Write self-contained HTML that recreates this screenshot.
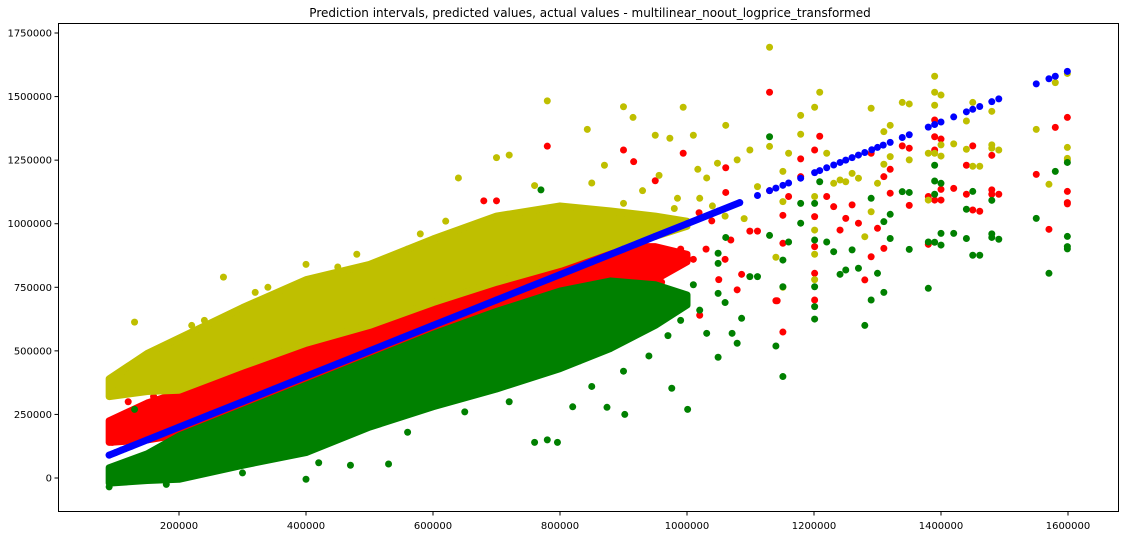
<!DOCTYPE html>
<html><head><meta charset="utf-8">
<style>
html,body{margin:0;padding:0;background:#fff;}
svg{display:block;font-family:"DejaVu Sans","Liberation Sans",sans-serif;}
</style></head>
<body>
<svg id="chart" width="1125" height="536" viewBox="0 0 1125 536" xmlns="http://www.w3.org/2000/svg">
<rect x="0" y="0" width="1125" height="536" fill="#fff"/>
<text x="590" y="17" text-anchor="middle" font-size="12" fill="#000">Prediction intervals, predicted values, actual values - multilinear_noout_logprice_transformed</text>
<g id="plot"></g>
<rect x="58.5" y="23.5" width="1060" height="488" fill="none" stroke="#000" stroke-width="1"/>
<g id="axes"></g>
</svg>
<script>
// ---- data (values in thousands) ----
const xTicks = [200, 400, 600, 800, 1000, 1200, 1400, 1600];
const yTicks = [0, 250, 500, 750, 1000, 1250, 1500, 1750];
// dense band envelopes
const bandX = [90, 150, 200, 300, 400, 500, 600, 700, 800, 880, 950, 1000];
const yellowLo = [320, 340, 345, 440, 530, 600, 690, 770, 840, 910, 950, 990];
const yellowHi = [390, 490, 550, 670, 780, 840, 940, 1030, 1070, 1050, 1030, 1010];
const redLo = [140, 150, 170, 240, 310, 390, 470, 540, 620, 700, 780, 850];
const redHi = [225, 295, 335, 445, 535, 635, 735, 820, 890, 910, 910, 880];
const greenLo = [-20, -10, -5, 50, 100, 200, 280, 350, 430, 510, 600, 680];
const greenHi = [40, 95, 165, 265, 365, 465, 565, 655, 735, 775, 760, 720];
// predicted values (dense segment)
const predDense = [90, 100, 110, 115, 125, 150, 200, 250, 300, 350, 400, 450, 500, 550, 600, 650, 700, 750, 800, 850, 900, 950, 1000, 1050, 1083];
// sparse predictions with upper, actual, lower
const sparseX = [1111,1130,1130,1140,1151,1151,1151,1160,1179,1179,1201,1201,1201,1201,1201,1209,1220,1231,1241,1250,1260,1270,1280,1290,1290,1300,1310,1310,1320,1320,1339,1350,1350,1380,1380,1390,1390,1390,1390,1400,1400,1400,1420,1440,1440,1450,1450,1461,1480,1480,1480,1491,1550,1570,1580,1599,1599,1599,1599];
const sparseUpper = [1146,1694,1304,868,1206,1087,750,1277,1426,1352,1458,1107,975,880,780,1517,1277,1159,1172,1165,1198,1179,949,1454,1047,1159,1362,1234,1387,1264,1477,1471,1251,1277,1093,1580,1517,1466,1277,1506,1310,1266,1314,1404,1293,1477,1226,1226,1442,1310,1297,1290,1371,1155,1555,1591,1300,1257,1251];
const sparseActual = [971,1517,1130,697,1033,923,574,1107,1255,1185,1290,1028,910,805,700,1344,1107,1067,975,1021,1074,1002,779,1277,870,982,1185,903,1214,1120,1306,1297,1072,1107,919,1408,1342,1290,1093,1333,1135,1093,1139,1230,1116,1306,1054,1049,1269,1133,1116,1116,1194,978,1379,1418,1127,1083,1078];
const sparseLower = [792,1342,954,519,857,752,399,928,1080,1002,1080,936,752,674,625,1165,928,890,801,818,897,825,600,1100,700,805,1008,730,1037,942,1126,1123,899,928,746,1230,1168,1116,927,1159,962,916,962,1057,942,1127,876,876,1092,960,946,939,1021,805,1206,1241,950,910,901];
const sparseBlueX = [1111,1130,1140,1151,1160,1179,1201,1209,1220,1231,1241,1250,1260,1270,1280,1291,1300,1309,1320,1339,1350,1380,1390,1400,1420,1440,1450,1461,1480,1491,1550,1570,1580,1599];
// extra scattered points
const yellowExtraX = [900,915,994,950,973,1010,843,1061,1099,1079,1017,1048,1031,956,870,930,985,1040,1090,900,130,270,400,560,580,700,720,780,640,340,110,100,220,320,480,620,760,850,240,450,1020,1060,980];
const yellowExtraY = [1460,1418,1458,1348,1336,1348,1371,1387,1290,1251,1214,1238,1180,1190,1230,1130,1100,1070,1020,1080,613,790,840,900,960,1260,1270,1483,1180,750,400,370,600,730,880,1010,1150,1160,620,830,1100,1030,1060];
const redExtraX = [900,916,994,950,1019,1061,1061,1039,1069,1099,1086,1142,990,960,1010,1050,930,1000,1079,900,870,850,960,1020,780,700,680,100,95,120,130,160,250,350,450,550,650,750,1030,1060];
const redExtraY = [1290,1244,1277,1169,1043,1220,1123,1011,936,971,801,697,900,980,860,780,860,700,740,1000,950,880,770,640,1305,1090,1090,215,140,300,260,320,420,520,610,720,840,960,900,860];
const greenExtraX = [1061,1049,1049,1049,1099,1086,1031,1071,1001,902,874,796,976,1049,1079,960,990,920,880,940,1010,900,970,850,830,530,400,470,780,760,820,130,770,90,95,300,420,560,650,720,180,1020,1060];
const greenExtraY = [946,884,844,726,792,628,569,569,270,250,278,140,353,475,530,700,620,640,560,480,760,420,560,360,460,55,-5,50,150,140,280,270,1133,-35,40,20,60,180,260,300,-25,660,690];

// ---- axes functions ----
const X = v => 179 + (v - 200) * 127 / 200;
const Y = v => 478 - v * 63.57 / 250;
const NS = 'http://www.w3.org/2000/svg';
const plot = document.getElementById('plot');
const axes = document.getElementById('axes');
const C = {y:'#bfbf00', r:'#ff0000', g:'#008000', b:'#0000ff'};

function band(lo, hi, color, name) {
  const pts = [];
  bandX.forEach((x, i) => pts.push(X(x) + ',' + Y(hi[i])));
  for (let i = bandX.length - 1; i >= 0; i--) pts.push(X(bandX[i]) + ',' + Y(lo[i]));
  const p = document.createElementNS(NS, 'polygon');
  p.setAttribute('points', pts.join(' '));
  p.setAttribute('fill', color);
  p.setAttribute('stroke', color);
  p.setAttribute('stroke-width', '7');
  p.setAttribute('stroke-linejoin', 'round');
  
  
  plot.appendChild(p);
}
function dot(x, y, color, name) {
  const c = document.createElementNS(NS, 'circle');
  c.setAttribute('cx', X(x));
  c.setAttribute('cy', Y(y));
  c.setAttribute('r', '3.5');
  c.setAttribute('fill', color);
  
  
  plot.appendChild(c);
}

band(redLo, redHi, C.r, 'actual-values-cloud');
redExtraX.forEach((x, i) => dot(x, redExtraY[i], C.r, 'actual-value-point'));
sparseX.forEach((x, i) => dot(x, sparseActual[i], C.r, 'actual-value-point'));
band(yellowLo, yellowHi, C.y, 'upper-interval-cloud');
yellowExtraX.forEach((x, i) => dot(x, yellowExtraY[i], C.y, 'upper-interval-point'));
sparseX.forEach((x, i) => dot(x, sparseUpper[i], C.y, 'upper-interval-point'));
band(greenLo, greenHi, C.g, 'lower-interval-cloud');
greenExtraX.forEach((x, i) => dot(x, greenExtraY[i], C.g, 'lower-interval-point'));
sparseX.forEach((x, i) => dot(x, sparseLower[i], C.g, 'lower-interval-point'));

const pl = document.createElementNS(NS, 'polyline');
pl.setAttribute('points', predDense.map(v => X(v) + ',' + Y(v)).join(' '));
pl.setAttribute('fill', 'none');
pl.setAttribute('stroke', C.b);
pl.setAttribute('stroke-width', '7');
pl.setAttribute('stroke-linecap', 'round');


plot.appendChild(pl);
predDense.forEach(v => dot(v, v, C.b, 'predicted-value-point'));
sparseBlueX.forEach(v => dot(v, v, C.b, 'predicted-value-point'));

xTicks.forEach(t => {
  const l = document.createElementNS(NS, 'line');
  l.setAttribute('x1', X(t)); l.setAttribute('x2', X(t));
  l.setAttribute('y1', 512); l.setAttribute('y2', 515.5);
  l.setAttribute('stroke', '#000');
  
  
  axes.appendChild(l);
  const tx = document.createElementNS(NS, 'text');
  tx.setAttribute('x', X(t)); tx.setAttribute('y', 529);
  tx.setAttribute('text-anchor', 'middle'); tx.setAttribute('font-size', '10');
  tx.textContent = String(t * 1000);
  
  
  axes.appendChild(tx);
});
yTicks.forEach(t => {
  const l = document.createElementNS(NS, 'line');
  l.setAttribute('x1', 54.5); l.setAttribute('x2', 58);
  l.setAttribute('y1', Y(t)); l.setAttribute('y2', Y(t));
  l.setAttribute('stroke', '#000');
  
  
  axes.appendChild(l);
  const tx = document.createElementNS(NS, 'text');
  tx.setAttribute('x', 52); tx.setAttribute('y', Y(t) + 3.5);
  tx.setAttribute('text-anchor', 'end'); tx.setAttribute('font-size', '10');
  tx.textContent = String(t * 1000);
  
  
  axes.appendChild(tx);
});
</script>
</body></html>
